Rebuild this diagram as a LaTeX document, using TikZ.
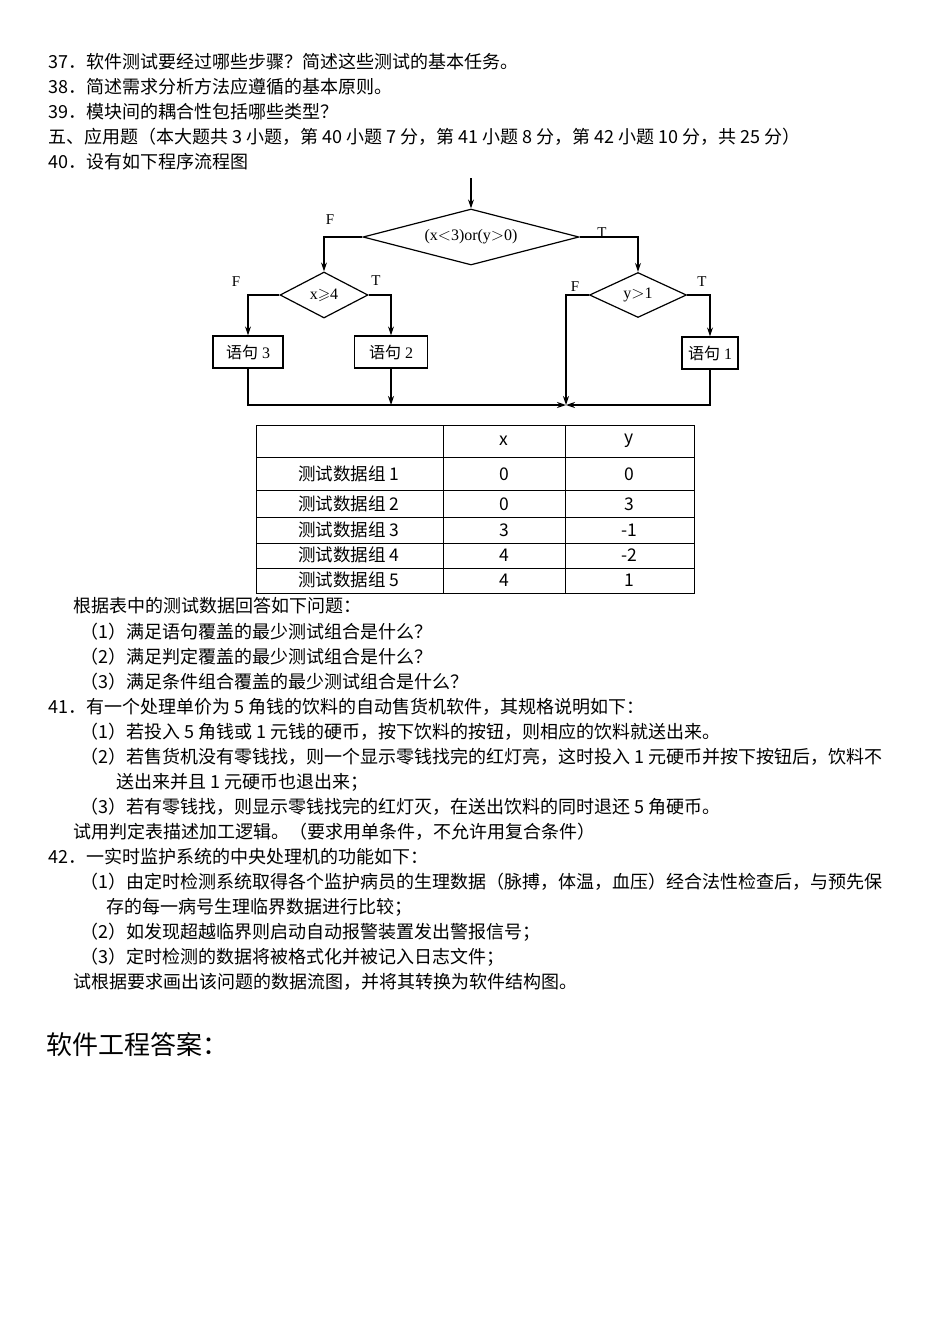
\documentclass[tikz,border=0pt]{standalone}
\usepackage{amssymb}
\usepackage{fontspec}
\setmainfont{Noto Sans CJK SC}
\newfontfamily\serf{Liberation Serif}
\newfontfamily\cjk{Noto Sans CJK SC}
\usetikzlibrary{shapes.geometric,arrows.meta}
\newcommand\myline[3]{\node[txt] at (#1,-#2) {#3};}
\begin{document}
\begin{tikzpicture}[x=1pt,y=1pt,
  txt/.style={anchor=west,inner sep=0pt,font=\fontsize{18}{20}\selectfont},
  fl/.style={line width=1.2pt,-{Stealth[length=9pt,width=6pt]}},
  box/.style={draw,line width=1.2pt,minimum height=32pt,font=\fontsize{16}{18}\selectfont\serf},
  lab/.style={font=\fontsize{15}{16}\selectfont\serf},
  dia/.style={diamond,draw,line width=1.2pt,inner sep=0pt,font=\fontsize{16}{18}\selectfont\serf},
  cell/.style={font=\fontsize{17.5}{20}\selectfont}]
\useasboundingbox (0,0) rectangle (950,-1344);
\myline{48}{62}{37．软件测试要经过哪些步骤？简述这些测试的基本任务。}
\myline{48}{87}{38．简述需求分析方法应遵循的基本原则。}
\myline{48}{112}{39．模块间的耦合性包括哪些类型？}
\myline{48}{137}{五、应用题（本大题共 3 小题，第 40 小题 7 分，第 41 小题 8 分，第 42 小题 10 分，共 25 分）}
\myline{48}{162}{40．设有如下程序流程图}
% flowchart
\coordinate (start) at (471,-178);
\node[dia,aspect=4,minimum width=216pt,minimum height=56pt] (d1) at (471,-237) {(x$<$3)or(y$>$0)};
\node[dia,aspect=1.9,minimum width=88pt,minimum height=46pt] (d2) at (324,-295) {x$\geqslant$4};
\node[dia,aspect=2.1,minimum width=97pt,minimum height=45pt] (d3) at (638,-295) {y$>$1};
\node[box,minimum width=70pt] (s3) at (248,-352) {{\cjk 语句} 3};
\node[box,minimum width=73pt] (s2) at (391,-352) {{\cjk 语句} 2};
\node[box,minimum width=56pt] (s1) at (710,-353) {{\cjk 语句} 1};
\coordinate (j) at (566,-405);
\draw[fl] (start) -- (d1.north);
\draw[fl] (d1.west) -| (d2.north);
\draw[fl] (d1.east) -| (d3.north);
\draw[fl] (d2.west) -| (s3.north);
\draw[fl] (d2.east) -| (s2.north);
\draw[fl] (d3.east) -| (s1.north);
\draw[fl] (s2.south) -- (s2.south |- j);
\draw[fl] (s3.south) |- (j);
\draw[fl] (s1.south) |- (j);
\draw[fl] (d3.west) -| (j);
\node[lab] at (330,-220) {F};
\node[lab] at (602,-233) {T};
\node[lab] at (236,-282) {F};
\node[lab] at (376,-281) {T};
\node[lab] at (575,-287) {F};
\node[lab] at (702,-282) {T};
% table
\draw[line width=0.6pt] (256,-425) rectangle (694,-593);
\foreach \yy in {457,490,517,543,568} \draw[line width=0.6pt] (256,-\yy) -- (694,-\yy);
\draw[line width=0.6pt] (443,-425) -- (443,-593);
\draw[line width=0.6pt] (565,-425) -- (565,-593);
\node[cell] (hx) at (504,-441) {x};
\node[cell] (hy) at (629,-441) {y};
\foreach \lbl/\xv/\yv/\yy in {1/0/0/474,2/0/3/504,3/3/-1/530,4/4/-2/555,5/4/1/580}{
  \node[cell] at (349,-\yy) {测试数据组 \lbl};
  \node[cell] at (504,-\yy) {\xv};
  \node[cell] at (629,-\yy) {\yv};
}
\myline{73}{606}{根据表中的测试数据回答如下问题：}
\myline{80}{632}{（1）满足语句覆盖的最少测试组合是什么？}
\myline{80}{657}{（2）满足判定覆盖的最少测试组合是什么？}
\myline{80}{682}{（3）满足条件组合覆盖的最少测试组合是什么？}
\myline{48}{707}{41．有一个处理单价为 5 角钱的饮料的自动售货机软件，其规格说明如下：}
\myline{80}{732}{（1）若投入 5 角钱或 1 元钱的硬币，按下饮料的按钮，则相应的饮料就送出来。}
\myline{80}{757}{（2）若售货机没有零钱找，则一个显示零钱找完的红灯亮，这时投入 1 元硬币并按下按钮后，饮料不}
\myline{116}{782}{送出来并且 1 元硬币也退出来；}
\myline{80}{807}{（3）若有零钱找，则显示零钱找完的红灯灭，在送出饮料的同时退还 5 角硬币。}
\myline{73}{832}{试用判定表描述加工逻辑。（要求用单条件，不允许用复合条件）}
\myline{48}{857}{42．一实时监护系统的中央处理机的功能如下：}
\myline{80}{882}{（1）由定时检测系统取得各个监护病员的生理数据（脉搏，体温，血压）经合法性检查后，与预先保}
\myline{106}{907}{存的每一病号生理临界数据进行比较；}
\myline{80}{932}{（2）如发现超越临界则启动自动报警装置发出警报信号；}
\myline{80}{957}{（3）定时检测的数据将被格式化并被记入日志文件；}
\myline{73}{982}{试根据要求画出该问题的数据流图，并将其转换为软件结构图。}
\node[txt,font=\fontsize{26}{28}\selectfont] at (46,-1045) {软件工程答案：};
\end{tikzpicture}
\end{document}
